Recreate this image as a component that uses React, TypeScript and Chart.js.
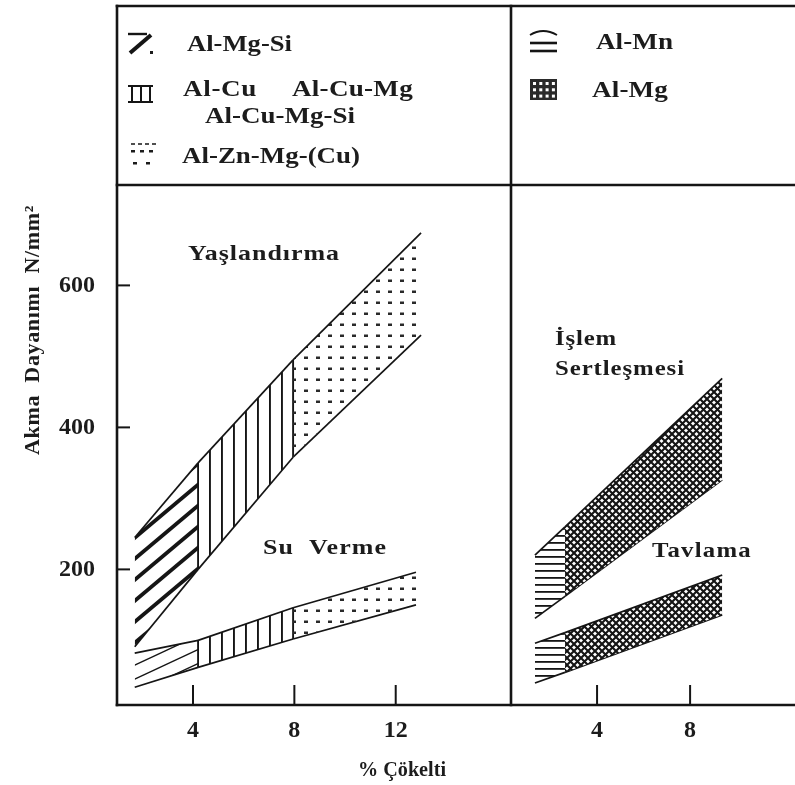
import React, { useEffect, useRef } from 'react';
import { Chart, registerables } from 'chart.js';
Chart.register(...registerables);

// ---- data ----
const yTicks = [200, 400, 600];
const leftTicks = [4, 8, 12];
const rightTicks = [4, 8];

const leftAlloys = ['Al-Mg-Si', 'Al-Cu', 'Al-Zn-Mg-(Cu)'];
const rightAlloys = ['Al-Mn', 'Al-Mg'];

// Yaşlandırma (aging) band, left panel
const agingX = [1.7, 4.2, 7.95, 13.0];
const agingTop = [245, 350, 495, 674];
const agingBottom = [91, 200, 358, 530];

// Su Verme (quench) band, left panel
const quenchX = [1.7, 4.2, 7.95, 12.8];
const quenchTop = [82, 100, 146, 196];
const quenchBottom = [34, 62, 102, 150];

// İşlem Sertleşmesi (work hardening) band, right panel
const workX = [1.33, 2.62, 9.38];
const workTop = [220, 260, 469];
const workBottom = [131, 162, 326];

// Tavlama (annealing) band, right panel
const annealX = [1.33, 2.62, 9.38];
const annealTop = [96, 111, 192];
const annealBottom = [40, 55, 136];

const INK = '#151515';
const SERIF = '"Liberation Serif", "DejaVu Serif", serif';

function tile(w: number, h: number, draw: (g: CanvasRenderingContext2D, w: number, h: number) => void) {
  const c = document.createElement('canvas');
  c.width = w;
  c.height = h;
  const g = c.getContext('2d')!;
  draw(g, w, h);
  return g.createPattern(c, 'repeat')!;
}

function diag(w: number, h: number, lw: number) {
  return tile(w, h, (g) => {
    g.strokeStyle = INK;
    g.lineWidth = lw;
    for (let k = -1; k <= 2; k++) {
      g.beginPath();
      g.moveTo(-w, 2 * h + k * h);
      g.lineTo(2 * w, -h + k * h);
      g.stroke();
    }
  });
}

function makePatterns() {
  return {
    diagThick: diag(25, 21, 3.8),
    diagThin: diag(30, 14, 1.4),
    vert: tile(12, 4, (g, w, h) => {
      g.fillStyle = INK;
      g.fillRect(5, 0, 1.9, h);
    }),
    dots: tile(12, 11, (g) => {
      g.fillStyle = '#2a2a2a';
      g.fillRect(4, 4.5, 4, 2.5);
    }),
    horiz: tile(4, 7, (g, w) => {
      g.fillStyle = INK;
      g.fillRect(0, 3, w, 1.8);
    }),
    cross: tile(7, 7, (g, w, h) => {
      g.fillStyle = '#fff';
      g.fillRect(0, 0, w, h);
      g.strokeStyle = INK;
      g.lineWidth = 2.1;
      for (const dx of [-w, 0, w]) {
        g.beginPath();
        g.moveTo(dx, 0);
        g.lineTo(dx + w, h);
        g.moveTo(dx + w, 0);
        g.lineTo(dx, h);
        g.stroke();
      }
    }),
  };
}

function band(xs: number[], top: number[], bottom: number[], names: string[], fills: any[], axis: string) {
  const ds: any[] = [];
  for (let i = 0; i < xs.length - 1; i++) {
    ds.push({
      label: names[i],
      data: [{ x: xs[i], y: top[i] }, { x: xs[i + 1], y: top[i + 1] }],
      xAxisID: axis,
      yAxisID: 'y',
      fill: '+1',
      backgroundColor: fills[i],
      borderColor: INK,
      borderWidth: 1.7,
      pointRadius: 0,
    });
    ds.push({
      label: names[i] + ' alt',
      data: [{ x: xs[i], y: bottom[i] }, { x: xs[i + 1], y: bottom[i + 1] }],
      xAxisID: axis,
      yAxisID: 'y',
      fill: false,
      borderColor: INK,
      borderWidth: 1.7,
      pointRadius: 0,
    });
  }
  return ds;
}

function edges(xs: number[], top: number[], bottom: number[], idx: number[], axis: string) {
  return idx.map((i) => ({
    label: 'edge',
    data: [{ x: xs[i], y: bottom[i] }, { x: xs[i], y: top[i] }],
    xAxisID: axis,
    yAxisID: 'y',
    fill: false,
    borderColor: INK,
    borderWidth: 1.9,
    pointRadius: 0,
  }));
}

// draw text into a given width: part horizontal stretch, part letter spacing
function fitText(ctx: CanvasRenderingContext2D, text: string, left: number, cy: number, width: number, size: number, maxStretch = 1.18) {
  ctx.save();
  ctx.font = `bold ${size}px ${SERIF}`;
  (ctx as any).letterSpacing = '0px';
  const w0 = ctx.measureText(text).width;
  const n = Array.from(text).length;
  const stretch = Math.max(0.85, Math.min(maxStretch, width / w0));
  const sp = (width / stretch - w0) / n;
  (ctx as any).letterSpacing = `${Math.max(-1, sp)}px`;
  ctx.textAlign = 'left';
  ctx.textBaseline = 'middle';
  ctx.translate(left, cy);
  ctx.scale(stretch, 1);
  ctx.fillText(text, 0, 0);
  ctx.restore();
}

function seg(ctx: CanvasRenderingContext2D, x1: number, y1: number, x2: number, y2: number, lw: number) {
  ctx.lineWidth = lw;
  ctx.beginPath();
  ctx.moveTo(x1, y1);
  ctx.lineTo(x2, y2);
  ctx.stroke();
}

const decor = {
  id: 'decor',
  afterDraw(chart: any) {
    const { ctx, chartArea: a, scales } = chart;
    const W = chart.width;
    ctx.save();
    ctx.strokeStyle = INK;
    ctx.fillStyle = '#1c1c1c';
    ctx.lineCap = 'square';
    const divX = scales.x2.left;
    const topY = 6;
    // frame
    seg(ctx, a.left, topY, W, topY, 2.6);
    seg(ctx, a.left, topY, a.left, a.bottom, 2.6);
    seg(ctx, a.left, a.bottom, W, a.bottom, 2.6);
    seg(ctx, a.left, a.top - 1, W, a.top - 1, 2.6);
    seg(ctx, divX, topY, divX, a.bottom, 2.6);
    ctx.lineCap = 'butt';
    // tick marks (inside)
    for (const v of yTicks) {
      const py = scales.y.getPixelForValue(v);
      seg(ctx, a.left, py, a.left + 13, py, 2);
    }
    for (const v of leftTicks) {
      const px = scales.x1.getPixelForValue(v);
      seg(ctx, px, a.bottom, px, a.bottom - 20, 2);
    }
    for (const v of rightTicks) {
      const px = scales.x2.getPixelForValue(v);
      seg(ctx, px, a.bottom, px, a.bottom - 20, 2);
    }

    // ---- legend icons ----
    // Al-Mg-Si
    seg(ctx, 128, 34, 147, 34, 2.4);
    seg(ctx, 130, 53, 151, 35, 4);
    ctx.fillRect(150, 51, 3, 3);
    // Al-Cu
    seg(ctx, 128, 86, 153, 86, 2);
    seg(ctx, 128, 102, 153, 102, 2);
    for (const x of [132, 141, 150]) seg(ctx, x, 86, x, 102, 2);
    // Al-Zn-Mg-(Cu)
    for (const x of [131, 138, 145, 152]) seg(ctx, x, 144, x + 4, 144, 1.5);
    for (const x of [131, 140, 149]) ctx.fillRect(x, 150, 4, 2.5);
    for (const x of [133, 146]) ctx.fillRect(x, 162, 4, 2.5);
    // Al-Mn
    ctx.lineWidth = 1.8;
    ctx.beginPath();
    ctx.moveTo(530, 35);
    ctx.quadraticCurveTo(543, 27, 557, 35);
    ctx.stroke();
    seg(ctx, 530, 43, 557, 43, 2.6);
    seg(ctx, 530, 51, 557, 51, 2.6);
    // Al-Mg
    ctx.fillStyle = '#2a2a2a';
    ctx.fillRect(530, 79, 27, 21);
    ctx.fillStyle = '#fff';
    for (let r = 0; r < 3; r++) for (let c = 0; c < 4; c++) ctx.fillRect(533 + c * 6.3, 82 + r * 6.3, 3, 3);
    ctx.fillStyle = '#1c1c1c';

    // ---- legend texts ----
    fitText(ctx, leftAlloys[0], 187, 45, 105, 23);
    fitText(ctx, 'Al-Cu', 183, 90, 74, 23);
    fitText(ctx, 'Al-Cu-Mg', 292, 90, 121, 23);
    fitText(ctx, 'Al-Cu-Mg-Si', 205, 117, 150, 23);
    fitText(ctx, leftAlloys[2], 182, 157, 178, 23);
    fitText(ctx, rightAlloys[0], 596, 43, 77, 23);
    fitText(ctx, rightAlloys[1], 592, 91, 76, 23);

    // ---- region labels ----
    fitText(ctx, 'Yaşlandırma', 188, 254, 152, 22);
    fitText(ctx, 'Su  Verme', 263, 548, 124, 22);
    fitText(ctx, 'İşlem', 555, 340, 62, 21);
    fitText(ctx, 'Sertleşmesi', 555, 370, 130, 21);
    fitText(ctx, 'Tavlama', 652, 552, 100, 21);

    // ---- axis titles ----
    fitText(ctx, '% Çökelti', 358, 771, 88, 20, 1.05);
    ctx.save();
    ctx.translate(34, 330);
    ctx.rotate(-Math.PI / 2);
    fitText(ctx, 'Akma  Dayanımı  N/mm²', -125, 0, 250, 21, 1.05);
    ctx.restore();

    ctx.restore();
  },
};

export default function App() {
  const ref = useRef<HTMLCanvasElement>(null);
  useEffect(() => {
    const canvas = ref.current!;
    const p = makePatterns();
    const datasets = [
      ...band(agingX, agingTop, agingBottom, leftAlloys, [p.diagThick, p.vert, p.dots], 'x1'),
      ...band(quenchX, quenchTop, quenchBottom, leftAlloys, [p.diagThin, p.vert, p.dots], 'x1'),
      ...band(workX, workTop, workBottom, rightAlloys, [p.horiz, p.cross], 'x2'),
      ...band(annealX, annealTop, annealBottom, rightAlloys, [p.horiz, p.cross], 'x2'),
      ...edges(agingX, agingTop, agingBottom, [1, 2], 'x1'),
      ...edges(quenchX, quenchTop, quenchBottom, [1, 2], 'x1'),
    ];
    const tickFont = { family: SERIF, size: 24, weight: 'bold' as const };
    const chart = new Chart(canvas, {
      type: 'line',
      data: { datasets },
      plugins: [decor],
      options: {
        responsive: false,
        animation: false,
        devicePixelRatio: 1,
        layout: { padding: { top: 186, left: 0, right: 0, bottom: 0 } },
        plugins: { legend: { display: false }, tooltip: { enabled: false } },
        elements: { line: { tension: 0 } },
        scales: {
          x1: {
            type: 'linear',
            position: 'bottom',
            stack: 'panels',
            stackWeight: 394,
            min: 1.0,
            max: 16.55,
            grid: { display: false },
            border: { display: false },
            ticks: { font: tickFont, color: '#1c1c1c', padding: 3, maxRotation: 0 },
            afterBuildTicks: (s: any) => { s.ticks = leftTicks.map((v) => ({ value: v })); },
            afterFit: (s: any) => { s.height = 80; },
          },
          x2: {
            type: 'linear',
            position: 'bottom',
            stack: 'panels',
            stackWeight: 284,
            min: 0.3,
            max: 12.51,
            grid: { display: false },
            border: { display: false },
            ticks: { font: tickFont, color: '#1c1c1c', padding: 3, maxRotation: 0 },
            afterBuildTicks: (s: any) => { s.ticks = rightTicks.map((v) => ({ value: v })); },
            afterFit: (s: any) => { s.height = 80; },
          },
          y: {
            type: 'linear',
            position: 'left',
            min: 9,
            max: 740,
            grid: { display: false },
            border: { display: false },
            ticks: { font: tickFont, color: '#1c1c1c', padding: 14 },
            afterBuildTicks: (s: any) => { s.ticks = yTicks.map((v) => ({ value: v })); },
            afterFit: (s: any) => { s.width = 117; },
          },
        },
      } as any,
    });
    return () => chart.destroy();
  }, []);
  return (
    <div style={{ position: 'absolute', left: 0, top: 0, width: 795, height: 785, background: '#fff' }}>
      <canvas ref={ref} width={795} height={785} style={{ display: 'block' }} />
    </div>
  );
}
